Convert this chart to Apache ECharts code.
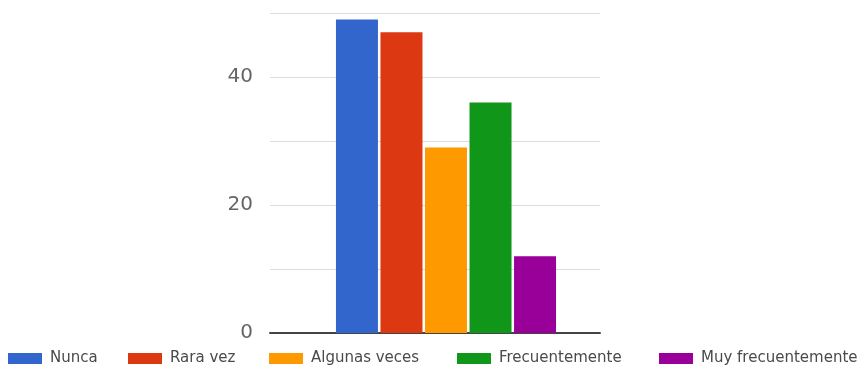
<!DOCTYPE html>
<html>
<head>
<meta charset="utf-8">
<script src="https://cdn.jsdelivr.net/npm/echarts@6/dist/echarts.min.js"></script>
<style>
  html, body { margin: 0; padding: 0; background: #fff; }
  #chart { width: 864px; height: 372px; }
</style>
</head>
<body>
<div id="chart"></div>
<script>
// Survey answers: how often each option was chosen
const categories = [''];
const seriesNames = ['Nunca', 'Rara vez', 'Algunas veces', 'Frecuentemente', 'Muy frecuentemente'];
const seriesValues = [49, 47, 29, 36, 12];
const seriesColors = ['#3366cc', '#dc3912', '#ff9900', '#109618', '#990099'];
const yTickLabels = [0, 20, 40];
const legendLeft = [8, 128, 269, 457, 659];

const chart = echarts.init(document.getElementById('chart'), null, { renderer: 'canvas' });

const yBase = { type: 'value', min: 0, max: 50, interval: 10 };

const option = {
  animation: false,
  backgroundColor: '#ffffff',
  grid: [
    { left: 270, right: 264, top: 13, bottom: 39 },
    { left: 281, right: 253, top: 13, bottom: 39 }
  ],
  xAxis: [
    {
      gridIndex: 0, type: 'category', data: categories,
      axisLine: { show: true, lineStyle: { color: '#444', width: 2 } },
      axisTick: { show: false }, axisLabel: { show: false }
    },
    {
      gridIndex: 1, type: 'category', data: categories, show: false
    }
  ],
  yAxis: [
    Object.assign({}, yBase, {
      gridIndex: 0,
      axisLine: { show: false }, axisTick: { show: false },
      splitLine: { show: true, lineStyle: { color: '#dcdcdc', width: 1 } },
      axisLabel: {
        margin: 17, color: '#666', fontSize: 20, fontFamily: 'DejaVu Sans',
        formatter: v => (yTickLabels.indexOf(v) >= 0 ? String(v) : '')
      }
    }),
    Object.assign({}, yBase, { gridIndex: 1, show: false, splitLine: { show: false } })
  ],
  legend: seriesNames.map((name, i) => ({
    data: [name],
    left: legendLeft[i],
    top: 351,
    padding: 0,
    itemWidth: 34,
    itemHeight: 11,
    icon: 'rect',
    selectedMode: false,
    textStyle: { color: '#4a4a4a', fontSize: 15, fontFamily: 'DejaVu Sans', padding: [0, 0, 0, 3] }
  })),
  series: seriesNames.map((name, i) => ({
    name: name,
    type: 'bar',
    xAxisIndex: 1,
    yAxisIndex: 1,
    data: [seriesValues[i]],
    barWidth: 42,
    barGap: '6%',
    itemStyle: { color: seriesColors[i] }
  }))
};

chart.setOption(option);
</script>
</body>
</html>
